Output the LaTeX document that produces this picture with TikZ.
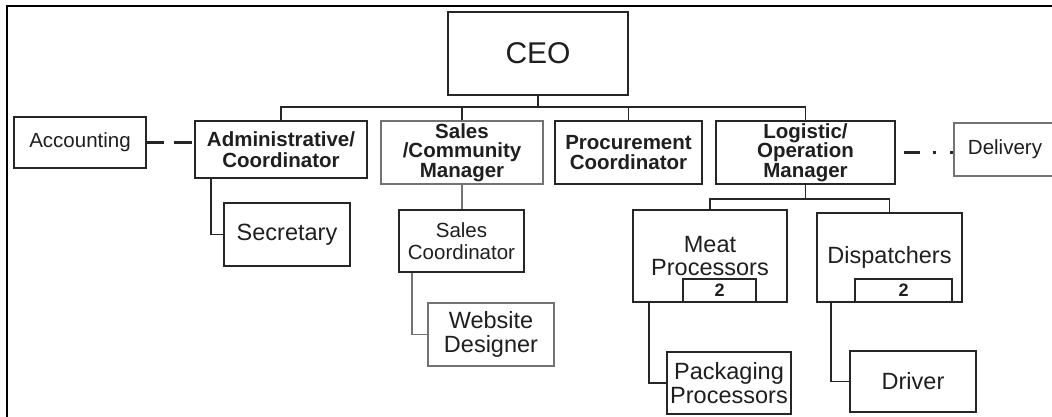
\documentclass[tikz,border=0pt]{standalone}
\usepackage{fontspec}
\setmainfont{Liberation Sans}
\definecolor{txt}{gray}{0.12}
\definecolor{ln}{gray}{0.15}
\definecolor{lg}{gray}{0.45}
\begin{document}
\begin{tikzpicture}[x=1pt,y=-1pt,
  box/.style={draw=ln,line width=1.2pt,inner sep=0pt,text=txt,align=center,fill=white},
  gbox/.style={box,draw=lg},
  reg/.style={font=\fontsize{23.5}{23.5}\selectfont},
  sm/.style={font=\fontsize{20.5}{21.5}\selectfont},
  bld/.style={font=\fontsize{20.5}{19.5}\selectfont\bfseries},
  num/.style={draw=ln,line width=1.1pt,inner sep=0pt,font=\fontsize{18}{18}\selectfont\bfseries,text=txt},
  conn/.style={draw=ln,line width=1.2pt},
  gconn/.style={draw=lg,line width=1.2pt},
  dsh/.style={draw=ln,line width=3pt,line cap=butt}]
\useasboundingbox (0,0) rectangle (1052,416);
\fill[white] (0,0) rectangle (1052,416);
\draw[black,line width=2.4pt] (7,6) rectangle (1080,440);

% top level
\node[box,minimum width=180pt,minimum height=83pt,font=\fontsize{30}{30}\selectfont] (CEO) at (538,53.5) {CEO};
\node[box,sm,minimum width=132pt,minimum height=51pt] (Acc) at (80,142.5) {Accounting};
\node[box,minimum width=172pt,minimum height=57pt,font=\fontsize{20.5}{20.5}\selectfont\bfseries] (Admin) at (281,149.5) {Administrative/\\Coordinator};
\node[gbox,bld,minimum width=162pt,minimum height=63pt] (Sales) at (462,152.5) {Sales\\/Community\\Manager};
\node[box,bld,minimum width=147pt,minimum height=63pt] (Proc) at (628.5,152.5) {Procurement\\Coordinator};
\node[box,bld,minimum width=179pt,minimum height=63pt] (Log) at (805.5,152.5) {Logistic/\\Operation\\Manager};
\node[gbox,sm,minimum width=102pt,minimum height=53pt] (Del) at (1005,149.5) {Delivery};

% second level
\node[box,reg,minimum width=126pt,minimum height=63pt] (Sec) at (287,234.5) {Secretary};
\node[box,sm,minimum width=125pt,minimum height=62pt] (SC) at (461.5,241) {Sales\\Coordinator};
\node[gbox,reg,minimum width=126pt,minimum height=63pt] (Web) at (491,334.5) {Website\\Designer};
\node[box,reg,minimum width=154pt,minimum height=92pt] (Meat) at (710,256) {Meat\\Processors};
\node[num,minimum width=73pt,minimum height=23pt] (M2) at (719.5,290.5) {2};
\node[box,reg,minimum width=145pt,minimum height=89pt] (Disp) at (889.5,257.5) {Dispatchers};
\node[num,minimum width=97pt,minimum height=23pt] (D2) at (903.5,290.5) {2};
\node[box,reg,minimum width=124pt,minimum height=62pt] (Pack) at (729,383) {Packaging\\Processors};
\node[box,reg,minimum width=126pt,minimum height=61pt] (Drv) at (913,381.5) {Driver};

% bus from CEO
\coordinate (bus) at (0,107);
\coordinate (sub) at (0,199);
\draw[conn] (CEO.south) -- (CEO.south |- bus);
\draw[conn] (Admin.north) -- (Admin.north |- bus) -- (Log.north |- bus) -- (Log.north);
\draw[conn] (Sales.north) -- (Sales.north |- bus);
\draw[conn] (Proc.north) -- (Proc.north |- bus);

% dotted relations
\draw[dsh,dash pattern=on 17pt off 10pt on 18pt off 10pt] (Acc.east) -- (Acc.east -| Admin.west);
\draw[dsh,dash pattern=on 0pt off 8pt on 16pt off 13pt on 3pt off 14pt on 3pt off 10pt] (Log.east) -- (Log.east -| Del.west);

% second level connectors
\draw[conn] ([xshift=-70pt]Admin.south) |- (Sec.west);
\draw[gconn] (Sales.south) -- (Sales.south |- SC.north);
\draw[gconn] ([xshift=-49.5pt]SC.south) |- (Web.west);
\draw[conn] (Log.south) -- (Log.south |- sub);
\draw[conn] (Meat.north) -- (Meat.north |- sub) -- (Disp.north |- sub) -- (Disp.north);
\draw[conn] ([xshift=-61pt]Meat.south) |- (Pack.west);
\draw[conn] ([xshift=-58.5pt]Disp.south) |- (Drv.west);
\end{tikzpicture}
\end{document}
